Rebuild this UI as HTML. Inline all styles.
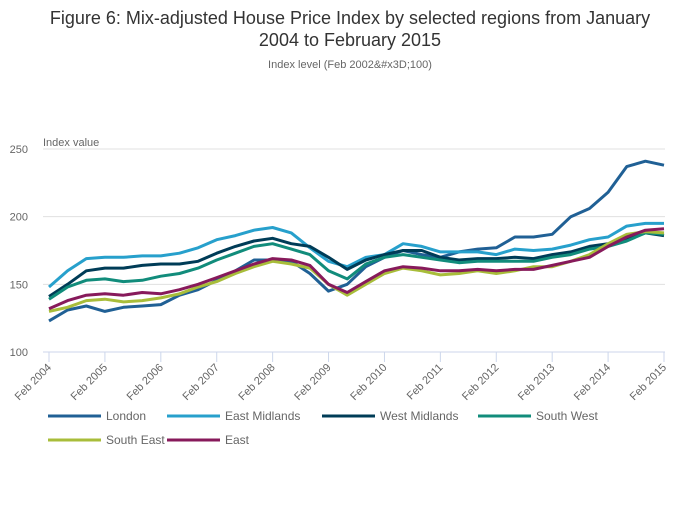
<!DOCTYPE html>
<html><head><meta charset="utf-8"><style>
body{margin:0;background:#fff;font-family:"Liberation Sans","DejaVu Sans",sans-serif;}
svg text{font-family:"Liberation Sans","DejaVu Sans",sans-serif;}
</style></head><body>
<svg id="chart" width="700" height="502" viewBox="0 0 700 502" xmlns="http://www.w3.org/2000/svg">
<text x="350" y="24" text-anchor="middle" font-size="18" fill="#333">Figure 6: Mix-adjusted House Price Index by selected regions from January</text>
<text x="350" y="46" text-anchor="middle" font-size="18" fill="#333">2004 to February 2015</text>
<text x="350" y="68" text-anchor="middle" font-size="11" fill="#666">Index level (Feb 2002&amp;#x3D;100)</text>
<text x="43" y="146" font-size="11" fill="#666">Index value</text>
<g id="grid"></g><g id="xaxis"></g><g id="series"></g><g id="legend"></g>
</svg>
<script>
const yTicks=[100,150,200,250];
const xTickLabels=["Feb 2004","Feb 2005","Feb 2006","Feb 2007","Feb 2008","Feb 2009","Feb 2010","Feb 2011","Feb 2012","Feb 2013","Feb 2014","Feb 2015"];
const months=[0,4,8,12,16,20,24,28,32,36,40,44,48,52,56,60,64,68,72,76,80,84,88,92,96,100,104,108,112,116,120,124,128,132];
const london=[123,131,134,130,133,134,135,142,146,153,160,168,168,167,158,145,150,163,170,175,172,170,174,176,177,185,185,187,200,206,218,237,241,238];
const eastMidlands=[148,160,169,170,170,171,171,173,177,183,186,190,192,188,177,167,163,170,172,180,178,174,174,174,172,176,175,176,179,183,185,193,195,195];
const westMidlands=[141,150,160,162,162,164,165,165,167,173,178,182,184,180,178,170,161,168,172,175,175,170,168,169,169,170,169,172,174,178,180,183,188,186];
const southWest=[139,148,153,154,152,153,156,158,162,168,173,178,180,176,172,160,154,165,170,172,170,168,166,167,167,167,167,170,172,176,178,182,188,187];
const southEast=[130,133,138,139,137,138,140,143,148,152,158,163,167,165,162,150,142,150,158,162,160,157,158,160,158,160,163,163,167,172,180,187,189,188];
const east=[132,138,142,143,142,144,143,146,150,155,160,165,169,168,164,150,144,152,160,163,162,160,160,161,160,161,161,164,167,170,178,185,190,191];
const seriesNames=["London","East Midlands","West Midlands","South West","South East","East"];
const seriesData=[london,eastMidlands,westMidlands,southWest,southEast,east];
const colors=["#206095","#27a0cc","#003c57","#118c7b","#a8bd3a","#871a5b"];
const NS="http://www.w3.org/2000/svg";
const X0=49,X1=664,Y100=352,Y250=149;
function xs(m){return X0+(X1-X0)*m/132;}
function ys(v){return Y100-(v-100)*(Y100-Y250)/150;}
function mk(t,a,p){const e=document.createElementNS(NS,t);for(const k in a)e.setAttribute(k,a[k]);p.appendChild(e);return e;}
const grid=document.getElementById('grid');
yTicks.forEach(v=>{
  if(v>100){const l=mk('line',{x1:43,x2:665,y1:ys(v),y2:ys(v),stroke:'#e0e0e0','stroke-width':1},grid);
  
  }
  const t=mk('text',{x:28,y:ys(v)+4,'text-anchor':'end','font-size':11,fill:'#666'},grid);
  t.textContent=v;
  
  
});
const xa=document.getElementById('xaxis');
const ax=mk('line',{x1:43,x2:665,y1:352,y2:352,stroke:'#ccd6eb','stroke-width':1},xa);


xTickLabels.forEach((lab,i)=>{
  const x=xs(i*12);
  const tk=mk('line',{x1:x,x2:x,y1:352,y2:362,stroke:'#ccd6eb'},xa);
  
  
  const t=mk('text',{x:x+3,y:368,'text-anchor':'end','font-size':11,fill:'#666',transform:`rotate(-45 ${x+3} 368)`},xa);
  t.textContent=lab;
  
  
});
const sg=document.getElementById('series');
seriesData.forEach((d,i)=>{
  const pts=d.map((v,j)=>xs(months[j]).toFixed(1)+','+ys(v).toFixed(1)).join(' ');
  const p=mk('polyline',{points:pts,fill:'none',stroke:colors[i],'stroke-width':3,'stroke-linejoin':'round'},sg);
  
  
});
const lg=document.getElementById('legend');
const legPos=[[48,416],[167,416],[322,416],[478,416],[48,440],[167,440]];
seriesNames.forEach((n,i)=>{
  const [x,y]=legPos[i];
  const g=mk('g',{},lg);
  
  
  mk('line',{x1:x,x2:x+53,y1:y,y2:y,stroke:colors[i],'stroke-width':3},g);
  const t=mk('text',{x:x+58,y:y+4,'font-size':12,fill:'#666'},g);
  t.textContent=n;
});
</script>
</body></html>
